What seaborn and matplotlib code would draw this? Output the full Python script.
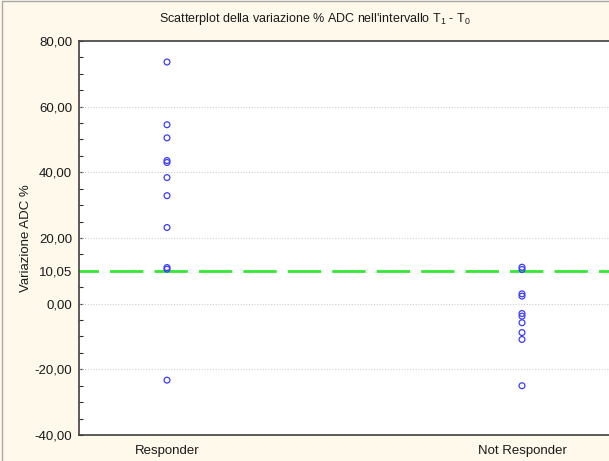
import matplotlib
matplotlib.use("Agg")
import matplotlib.pyplot as plt
from matplotlib.lines import Line2D
from matplotlib.ticker import FixedLocator, MultipleLocator, FixedFormatter
import seaborn as sns
import pandas as pd

# Percent change of ADC between T0 and T1, by response group
responder = [73.6, 54.5, 50.5, 43.6, 43.0, 38.4, 32.9, 23.2, 11.0, 10.5, -23.3]
not_responder = [11.1, 10.4, 3.0, 2.3, -3.0, -3.8, -5.8, -8.8, -10.9, -25.0]
categories = ["Responder", "Not Responder"]
cutoff = 10.05
y_ticks = [-40, -20, 0, cutoff, 20, 40, 60, 80]

df = pd.DataFrame({
    "gruppo": [categories[0]] * len(responder) + [categories[1]] * len(not_responder),
    "variazione": responder + not_responder,
})

sns.set_style("white")
plt.rcParams["font.family"] = ["Liberation Sans", "DejaVu Sans"]
plt.rcParams["mathtext.fontset"] = "custom"
plt.rcParams["mathtext.rm"] = "Liberation Sans"
plt.rcParams["mathtext.default"] = "regular"

W, H = 609, 461
fig = plt.figure(figsize=(W / 100, H / 100), dpi=100)
fig.patch.set_facecolor("#fff9ec")
# window frame along the top and left edges
fig.lines.append(Line2D([1.5 / W, 1.5 / W, 1], [0, 1 - 1.5 / H, 1 - 1.5 / H],
                        transform=fig.transFigure, color="#a8a8a8", linewidth=1))

left, right, top, bottom = 79, 640, 41, 435
ax = fig.add_axes([left / W, 1 - bottom / H, (right - left) / W, (bottom - top) / H])
ax.set_facecolor("white")

sns.stripplot(data=df, x="gruppo", y="variazione", order=categories, jitter=False, ax=ax,
              marker="o", size=4.2, facecolor="none", edgecolor="#3c3cff", linewidth=0.9,
              color="none", zorder=3)

ax.axhline(cutoff, color="#33e833", linewidth=2, linestyle=(5, (12, 4)), zorder=2)

# x range: category centers at 167 px and 522 px
ppu = 522 - 167
ax.set_xlim(-(167 - left) / ppu, 1 + (right - 522) / ppu)
ax.set_ylim(-40, 80)

ax.yaxis.set_major_locator(FixedLocator(y_ticks))
ax.yaxis.set_major_formatter(FixedFormatter([f"{v:.2f}".replace(".", ",") for v in y_ticks]))
ax.yaxis.set_minor_locator(MultipleLocator(5))
ax.tick_params(axis="y", which="both", direction="in", length=3, width=0.8, color="#303030",
               left=True, labelsize=9.5, labelcolor="#1a1a1a", pad=5)
ax.tick_params(axis="x", which="both", length=0, labelsize=9.5, labelcolor="#1a1a1a", pad=7)

for v in [-20, 0, 20, 40, 60]:
    ax.axhline(v, color="#cfcfcf", linewidth=0.8, linestyle=(0, (1, 1.5)), zorder=1)

for side in ["left", "bottom", "top"]:
    ax.spines[side].set_visible(True)
    ax.spines[side].set_color("#404040")
    ax.spines[side].set_linewidth(1.2)
ax.spines["right"].set_visible(False)

ax.set_xlabel("")
ax.set_ylabel("Variazione ADC %", fontsize=9.5, color="#1a1a1a", labelpad=2)

fig.text(315 / W, 1 - 19 / H, "Scatterplot della variazione % ADC nell'intervallo T$_1$ - T$_0$",
         ha="center", va="center", fontsize=9, color="#1a1a1a")

fig.savefig("out.png", dpi=100, facecolor=fig.get_facecolor())
